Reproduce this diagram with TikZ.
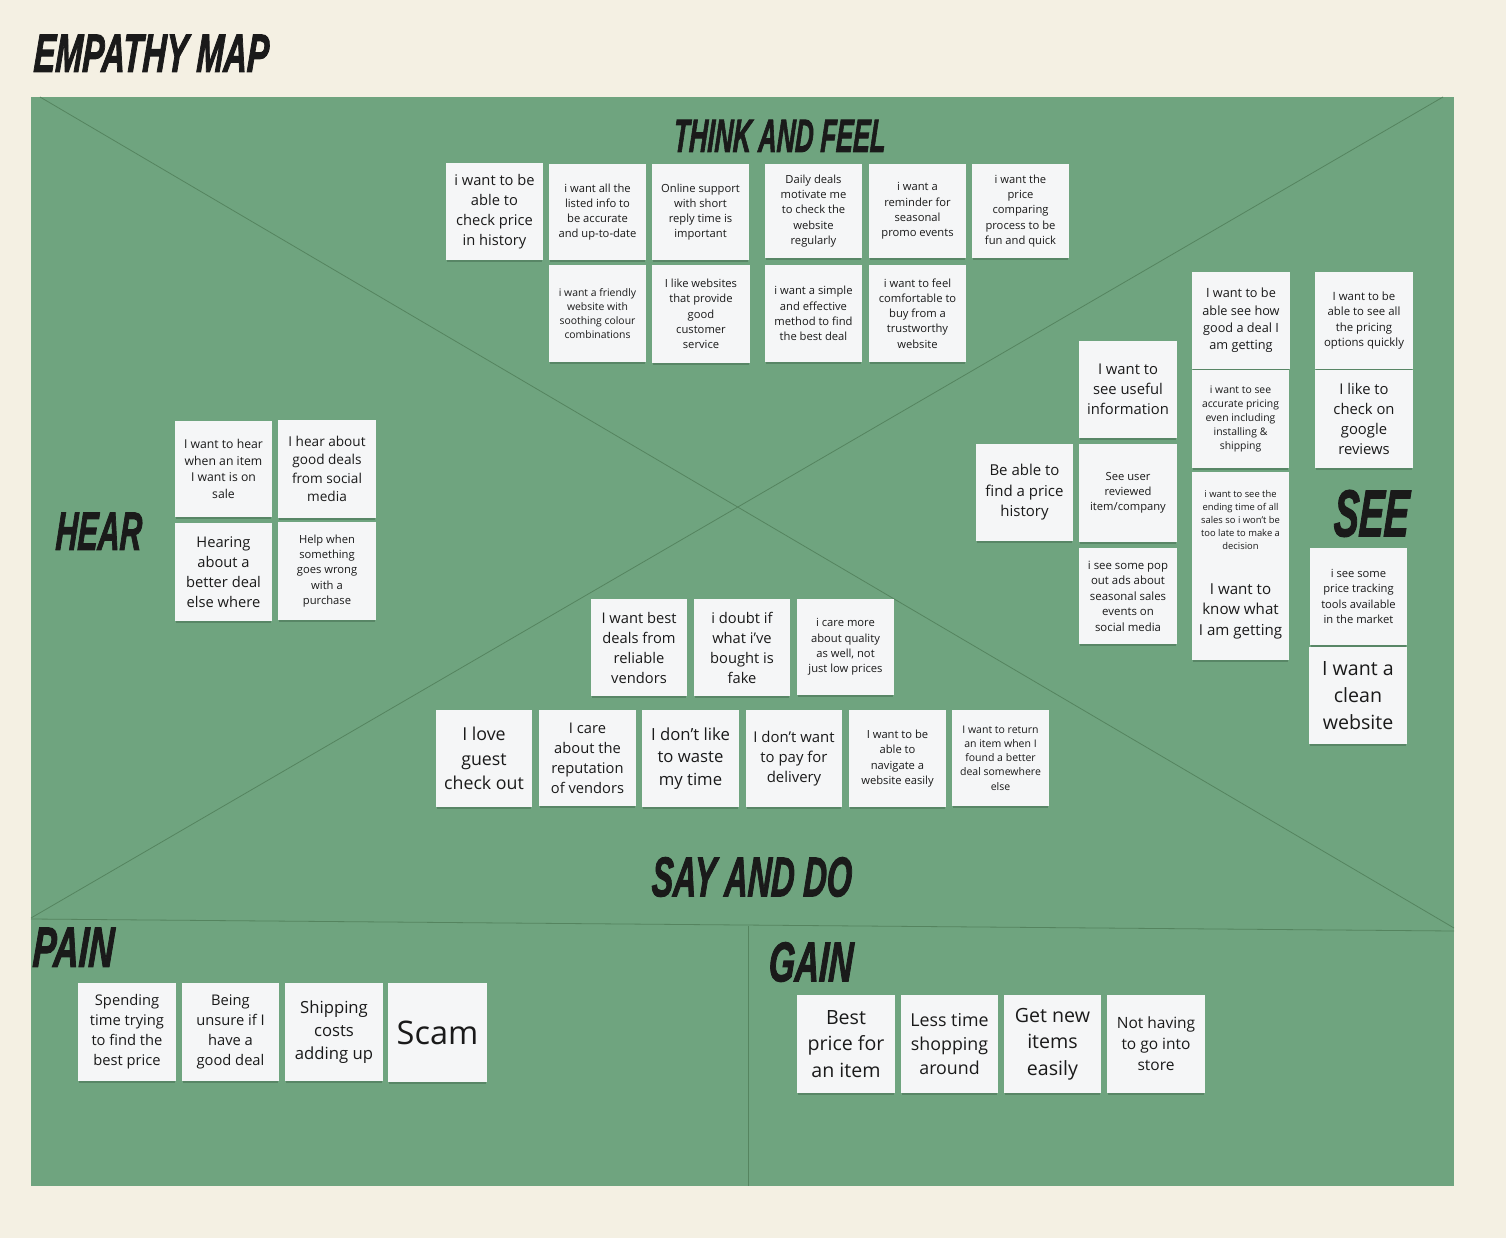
\documentclass[tikz,border=0pt]{standalone}
\usepackage{fontspec}
\usepackage{graphicx}
\setmainfont{Open Sans}
\newfontfamily\titlefont[FakeBold=2.2,FakeSlant=0.08]{Liberation Sans}
\usetikzlibrary{shadows}
\definecolor{bgcream}{HTML}{F4F0E3}
\definecolor{boardgreen}{HTML}{6FA47F}
\definecolor{linegreen}{HTML}{55845F}
\definecolor{notewhite}{HTML}{F5F6F7}
\definecolor{inkdark}{HTML}{1A1A1A}
\definecolor{shadowgreen}{HTML}{2F4F38}
\tikzset{
  sticky/.style={draw=none, fill=notewhite, inner sep=1pt, align=center, text=inkdark,
    drop shadow={shadow xshift=0pt, shadow yshift=-4pt, shadow scale=0.97, opacity=0.35, fill=shadowgreen}},
  boardline/.style={draw=linegreen, line width=0.8pt},
}
\newcommand\stk[7]{%
  \pgfmathsetmacro\stkw{#4-#2}\pgfmathsetmacro\stkh{#5-#3}%
  \pgfmathsetmacro\stkx{(#2+#4)/2}\pgfmathsetmacro\stky{(#3+#5)/2}%
  \pgfmathsetmacro\stkl{1.36*#6}%
  \node[sticky, minimum width=\stkw pt, minimum height=\stkh pt,
        font=\fontsize{#6}{\stkl}\selectfont] (#1) at (\stkx,\stky) {#7};}
\newcommand\lbl[6]{%
  \pgfmathsetmacro\lblw{#4-#2}\pgfmathsetmacro\lblh{#5-#3}%
  \node[anchor=south west, inner sep=0pt, text=inkdark] (#1) at (#2,#5)
    {\resizebox{\lblw pt}{\lblh pt}{\titlefont\bfseries\itshape #6}};}
\begin{document}
\begin{tikzpicture}[x=1pt,y=-1pt]
\useasboundingbox (0,0) rectangle (1506,1238);
\fill[bgcream] (0,0) rectangle (1506,1238);
\fill[boardgreen] (31,97) rectangle (1454,1186);
\draw[boardline] (40,97) -- (1454,928);
\draw[boardline] (1443,97) -- (31,918);
\draw[boardline] (31,919) -- (1454,931);
\draw[boardline] (748,926) -- (748,1186);

% THINK AND FEEL
\stk{tf1}{446}{163}{543}{260}{14.7}{i want to be\\able to\\check price\\in history}
\stk{tf2}{549}{164}{646}{260}{11.2}{i want all the\\listed info to\\be accurate\\and up-to-date}
\stk{tf3}{652}{164}{749}{260}{11.2}{Online support\\with short\\reply time is\\important}
\stk{tf4}{765}{164}{862}{258}{11.2}{Daily deals\\motivate me\\to check the\\website\\regularly}
\stk{tf5}{869}{164}{966}{258}{11.2}{i want a\\reminder for\\seasonal\\promo events}
\stk{tf6}{972}{164}{1069}{258}{11.2}{i want the\\price\\comparing\\process to be\\fun and quick}
\stk{tf7}{549}{265}{646}{362}{10.4}{i want a friendly\\website with\\soothing colour\\combinations}
\stk{tf8}{652}{265}{750}{363}{11.2}{I like websites\\that provide\\good\\customer\\service}
\stk{tf9}{765}{265}{862}{362}{11.2}{i want a simple\\and effective\\method to find\\the best deal}
\stk{tf10}{869}{265}{966}{362}{11.2}{i want to feel\\comfortable to\\buy from a\\trustworthy\\website}

% SEE
\stk{se1}{1079}{341}{1177}{438}{14.8}{I want to\\see useful\\information}
\stk{se2}{976}{444}{1073}{541}{15}{Be able to\\find a price\\history}
\stk{se3}{1079}{444}{1177}{542}{11.2}{See user\\reviewed\\item/company}
\stk{se4}{1079}{548}{1177}{644}{11.4}{i see some pop\\out ads about\\seasonal sales\\events on\\social media}
\stk{se5}{1192}{272}{1290}{369}{12.7}{I want to be\\able see how\\good a deal I\\am getting}
\stk{se6}{1192}{370}{1289}{468}{10.4}{i want to see\\accurate pricing\\even including\\installing \&\\shipping}
\stk{se7}{1192}{472}{1289}{568}{9.4}{i want to see the\\ending time of all\\sales so i won't be\\too late to make a\\decision}
\stk{se8}{1192}{562}{1289}{660}{15.1}{I want to\\know what\\I am getting}
\stk{se9}{1315}{272}{1413}{369}{11.4}{I want to be\\able to see all\\the pricing\\options quickly}
\stk{se10}{1315}{370}{1413}{468}{14.8}{I like to\\check on\\google\\reviews}
\stk{se11}{1310}{548}{1407}{645}{11.2}{i see some\\price tracking\\tools available\\in the market}
\stk{se12}{1309}{647}{1407}{744}{19.6}{I want a\\clean\\website}

% HEAR
\stk{he1}{175}{421}{272}{517}{12.2}{I want to hear\\when an item\\I want is on\\sale}
\stk{he2}{278}{420}{376}{518}{13.6}{I hear about\\good deals\\from social\\media}
\stk{he3}{175}{523}{272}{621}{14.7}{Hearing\\about a\\better deal\\else where}
\stk{he4}{278}{522}{376}{620}{11.2}{Help when\\something\\goes wrong\\with a\\purchase}

% SAY AND DO
\stk{sd1}{591}{599}{687}{696}{14.7}{I want best\\deals from\\reliable\\vendors}
\stk{sd2}{694}{599}{790}{696}{14.7}{i doubt if\\what i've\\bought is\\fake}
\stk{sd3}{797}{599}{894}{695}{11.2}{i care more\\about quality\\as well, not\\just low prices}
\stk{sd4}{436}{710}{532}{807}{17.8}{I love\\guest\\check out}
\stk{sd5}{539}{710}{636}{806}{14.7}{I care\\about the\\reputation\\of vendors}
\stk{sd6}{642}{710}{739}{807}{16.7}{I don't like\\to waste\\my time}
\stk{sd7}{746}{710}{842}{807}{14.9}{I don't want\\to pay for\\delivery}
\stk{sd8}{849}{710}{946}{807}{11.2}{I want to be\\able to\\navigate a\\website easily}
\stk{sd9}{952}{710}{1049}{806}{10.5}{I want to return\\an item when I\\found a better\\deal somewhere\\else}

% PAIN
\stk{pa1}{78}{983}{176}{1081}{14.7}{Spending\\time trying\\to find the\\best price}
\stk{pa2}{182}{983}{279}{1081}{14.7}{Being\\unsure if I\\have a\\good deal}
\stk{pa3}{285}{983}{383}{1081}{16.7}{Shipping\\costs\\adding up}
\stk{pa4}{388}{983}{487}{1082}{32.5}{Scam}

% GAIN
\stk{ga1}{797}{995}{895}{1093}{19.6}{Best\\price for\\an item}
\stk{ga2}{901}{995}{998}{1093}{17.8}{Less time\\shopping\\around}
\stk{ga3}{1004}{995}{1101}{1093}{19.6}{Get new\\items\\easily}
\stk{ga4}{1107}{995}{1205}{1093}{15.5}{Not having\\to go into\\store}

% Headings
\lbl{ttl}{33}{35}{268}{72}{EMPATHY MAP}
\lbl{ltf}{673}{120}{885}{152}{THINK AND FEEL}
\lbl{lhe}{55}{513}{141}{550}{HEAR}
\lbl{lse}{1333}{491}{1408}{537}{SEE}
\lbl{lsd}{651}{858}{851}{897}{SAY AND DO}
\lbl{lpa}{32}{928}{113}{967}{PAIN}
\lbl{lga}{768}{943}{852}{982}{GAIN}
\end{tikzpicture}
\end{document}
